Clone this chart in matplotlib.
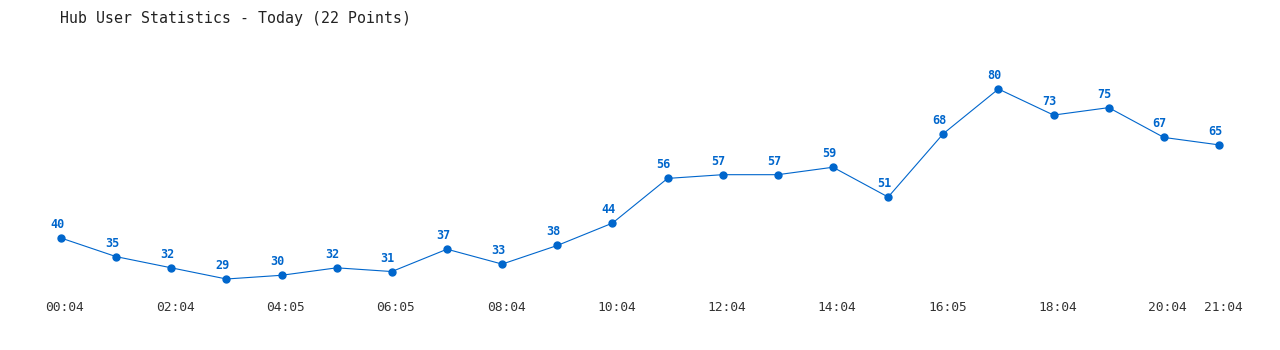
import matplotlib
matplotlib.use("Agg")
import matplotlib.pyplot as plt
import matplotlib.transforms as mtransforms

title = "Hub User Statistics - Today (22 Points)"
users = [40, 35, 32, 29, 30, 32, 31, 37, 33, 38, 44, 56, 57, 57, 59, 51, 68, 80, 73, 75, 67, 65]
tick_idx = [0, 2, 4, 6, 8, 10, 12, 14, 16, 18, 20, 21]
tick_labels = ["00:04", "02:04", "04:05", "06:05", "08:04", "10:04", "12:04",
               "14:04", "16:05", "18:04", "20:04", "21:04"]

W, H = 1280, 350
fig = plt.figure(figsize=(W / 100, H / 100), dpi=100)
ax = fig.add_axes([0, 60 / H, 1, 290 / H])
px_per_x = 1158 / 21
xmin = -61 / px_per_x
ax.set_xlim(xmin, xmin + W / px_per_x)
px_per_y = 190 / 51
ymin = 29 - 11 / px_per_y
ymax = 80 + 89 / px_per_y
ax.set_ylim(ymin, ymax)

color = "#0066cc"
xs = list(range(len(users)))
ax.plot(xs, users, color=color, lw=0.8, marker="o", markersize=5, clip_on=False)
for x, v in zip(xs, users):
    ax.annotate(str(v), (x, v), xytext=(-4, 7), textcoords="offset pixels",
                ha="center", va="bottom", color=color, fontsize=8.5,
                fontweight="bold", family="DejaVu Sans Mono")

ax.set_xticks(tick_idx)
ax.set_xticklabels(tick_labels, family="DejaVu Sans Mono", fontsize=9.3, color="#333333")
ax.tick_params(axis="x", length=0, pad=8)
offset = mtransforms.ScaledTranslation(4 / 100, 0, fig.dpi_scale_trans)
for lbl in ax.get_xticklabels():
    lbl.set_transform(lbl.get_transform() + offset)
ax.set_yticks([])
for s in ax.spines.values():
    s.set_visible(False)
ax.patch.set_alpha(0)

fig.text(60 / W, 1 - 18 / H, title, family="DejaVu Sans Mono", fontsize=10.7,
         color="#222222", ha="left", va="center")

fig.savefig("out.png", dpi=100, facecolor="white")
